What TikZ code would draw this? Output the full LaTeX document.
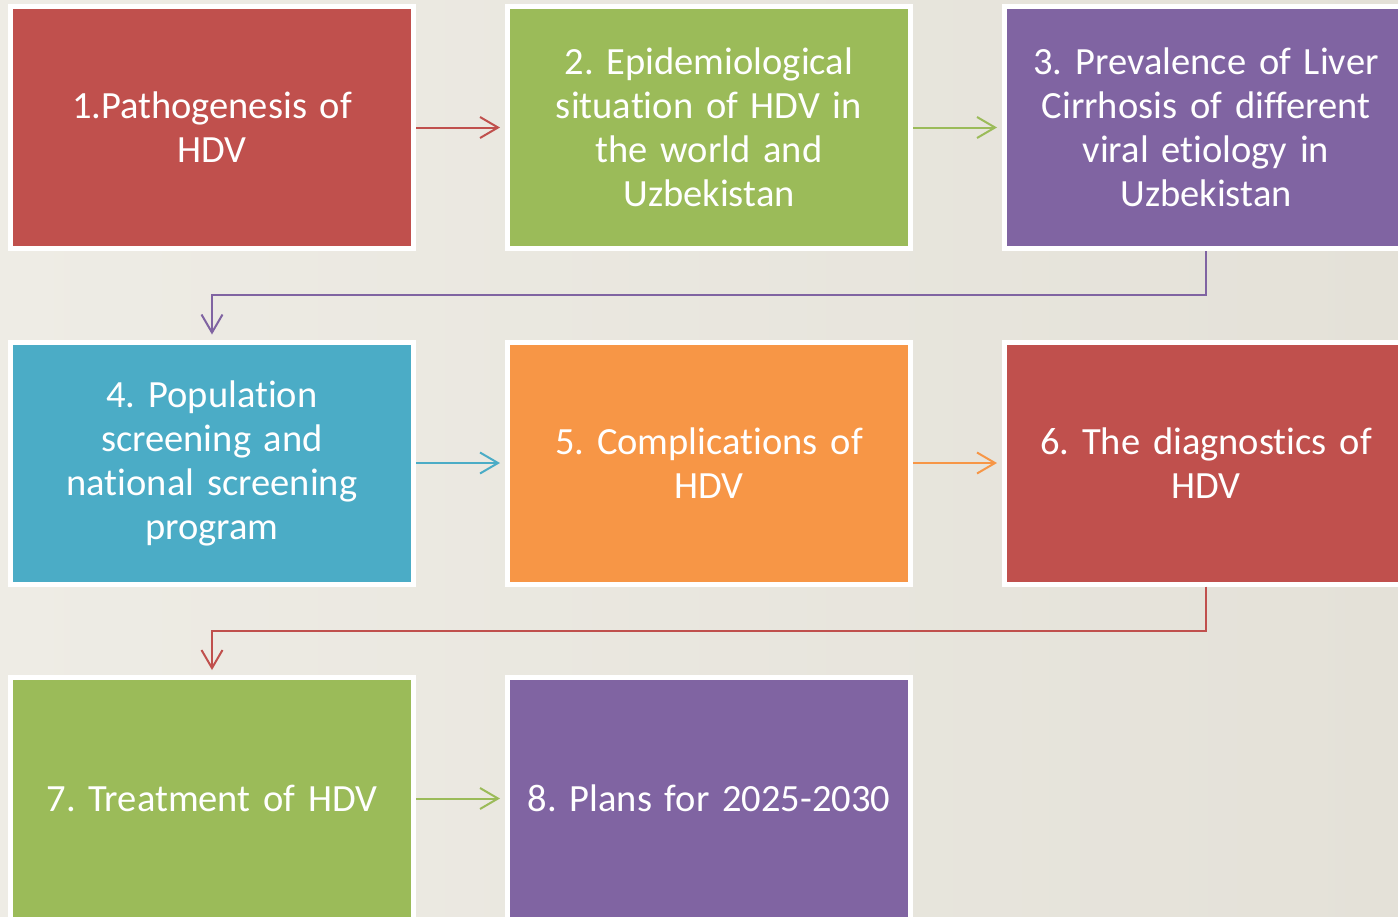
\documentclass[tikz,border=0pt]{standalone}
\usepackage{fontspec}
\setmainfont{Carlito}[Ligatures={NoCommon,NoRare,NoContextual},Contextuals=NoAlternate]
\frenchspacing
\usetikzlibrary{arrows.meta}
\definecolor{cred}{HTML}{C0504D}
\definecolor{cgreen}{HTML}{9BBB59}
\definecolor{cpurple}{HTML}{8064A2}
\definecolor{cblue}{HTML}{4BACC6}
\definecolor{corange}{HTML}{F79646}
\definecolor{bgA}{HTML}{EEECE5}
\definecolor{bgB}{HTML}{E4E1D8}
\tikzset{
  box/.style={draw=white, line width=5pt, minimum width=403pt, minimum height=242pt,
    text=white, align=center, text width=396pt, inner xsep=0pt,
    font=\fontsize{38.5}{44}\selectfont\frenchspacing},
  conn/.style={line width=2pt, -{Straight Barb[length=18pt,width=21pt,line width=2pt]}}
}
\begin{document}
\begin{tikzpicture}[x=1pt,y=-1pt]
\useasboundingbox (0,0) rectangle (1398,916);
\clip (0,0) rectangle (1398,916);
\shade[left color=bgA, right color=bgB] (0,0) rectangle (1398,916);
\node[box, fill=cred]    (n1) at (212,127.5) {1.Pathogenesis of\\HDV};
\node[box, fill=cgreen]  (n2) at (709,127.5) {2. Epidemiological\\situation of HDV in\\the world and\\Uzbekistan};
\node[box, fill=cpurple] (n3) at (1206,127.5) {3. Prevalence of Liver\\Cirrhosis of different\\viral etiology in\\Uzbekistan};
\node[box, fill=cblue]   (n4) at (212,463) {4. Population\\screening and\\national screening\\program};
\node[box, fill=corange] (n5) at (709,463) {5. Complications of\\HDV};
\node[box, fill=cred]    (n6) at (1206,463) {6. The diagnostics of\\HDV};
\node[box, fill=cgreen]  (n7) at (212,798.5) {7. Treatment of HDV};
\node[box, fill=cpurple] (n8) at (709,798.5) {8. Plans for 2025-2030};
\draw[conn, cred, shorten >=5pt]    (n1.east) -- (n2.west);
\draw[conn, cgreen, shorten >=5pt]  (n2.east) -- (n3.west);
\draw[conn, cblue, shorten >=5pt]   (n4.east) -- (n5.west);
\draw[conn, corange, shorten >=5pt] (n5.east) -- (n6.west);
\draw[conn, cgreen, shorten >=5pt]  (n7.east) -- (n8.west);
\draw[conn, cpurple, shorten >=5pt] (n3.south) -- ++(0,44) -| (n4.north);
\draw[conn, cred, shorten >=5pt]    (n6.south) -- ++(0,44) -| (n7.north);
\end{tikzpicture}
\end{document}
